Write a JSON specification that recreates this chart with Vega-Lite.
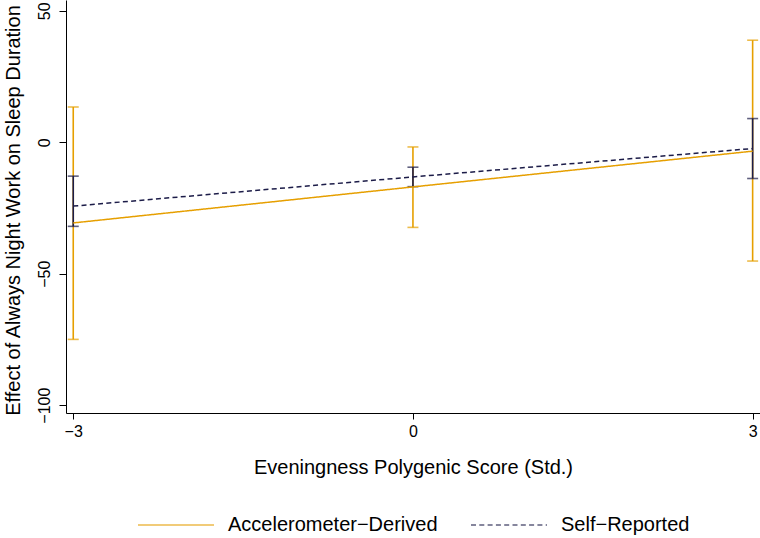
{
  "$schema": "https://vega.github.io/schema/vega-lite/v6.json",
  "autosize": "none",
  "width": 694,
  "height": 413,
  "padding": {"left": 66, "top": 0, "right": 0, "bottom": 125},
  "background": "white",
  "config": {
    "view": {"stroke": null},
    "font": "Liberation Sans",
    "axis": {"grid": false, "domainColor": "black", "tickColor": "black", "labelColor": "black", "titleColor": "black", "labelFont": "Liberation Sans", "titleFont": "Liberation Sans", "titleFontWeight": "normal", "domainWidth": 1, "tickWidth": 1, "labelFontSize": 16, "titleFontSize": 20}
  },
  "data": {
    "values": [
      {"series": "Accelerometer−Derived", "x": -3, "est": -30.7, "lo": -75.0, "hi": 13.4},
      {"series": "Accelerometer−Derived", "x": 0, "est": -17.0, "lo": -32.4, "hi": -1.8},
      {"series": "Accelerometer−Derived", "x": 3, "est": -3.4, "lo": -45.2, "hi": 38.8},
      {"series": "Self−Reported", "x": -3, "est": -24.3, "lo": -32.0, "hi": -12.9},
      {"series": "Self−Reported", "x": 0, "est": -13.2, "lo": -16.9, "hi": -9.5},
      {"series": "Self−Reported", "x": 3, "est": -2.4, "lo": -13.8, "hi": 9.0}
    ]
  },
  "encoding": {
    "x": {
      "field": "x", "type": "quantitative",
      "scale": {"domain": [-3.064, 3.065], "nice": false, "zero": false},
      "axis": {"values": [-3, 0, 3], "title": "Eveningness Polygenic Score (Std.)", "labelFontSize": 16, "titleFontSize": 20, "tickSize": 6, "labelPadding": 4, "labelBaseline": "top", "titleBaseline": "middle", "titleY": 54.5, "titleX": 347}
    },
    "color": {
      "field": "series", "type": "nominal",
      "scale": {"domain": ["Accelerometer−Derived", "Self−Reported"], "range": ["#E69F00", "#1C1C48"]},
      "legend": {"title": null, "orient": "none", "direction": "horizontal", "legendX": 71, "legendY": 486, "symbolType": "stroke", "symbolSize": 5776, "symbolStrokeWidth": 1.5, "labelFontSize": 20, "labelFont": "Liberation Sans", "labelColor": "black", "labelOffset": 13, "labelLimit": 400, "columnPadding": 30}
    }
  },
  "layer": [
    {
      "mark": {"type": "rule", "strokeWidth": 1.6},
      "encoding": {
        "y": {"field": "lo", "type": "quantitative", "scale": {"domain": [-103, 54.1], "nice": false, "zero": false},
          "axis": {"values": [-100, -50, 0, 50], "title": "Effect of Always Night Work on Sleep Duration", "labelFontSize": 16, "titleFontSize": 20, "labelAngle": -90, "labelAlign": "center", "labelBaseline": "bottom", "tickSize": 7, "labelPadding": 7, "titleAngle": -90, "titleAlign": "center", "titleBaseline": "bottom", "titleX": -43, "titleY": 210}},
        "y2": {"field": "hi"}
      }
    },
    {
      "mark": {"type": "tick", "orient": "horizontal", "size": 11, "thickness": 1.6},
      "encoding": {"y": {"field": "lo", "type": "quantitative"}}
    },
    {
      "mark": {"type": "tick", "orient": "horizontal", "size": 11, "thickness": 1.6},
      "encoding": {"y": {"field": "hi", "type": "quantitative"}}
    },
    {
      "mark": {"type": "line", "strokeWidth": 1.5},
      "encoding": {
        "y": {"field": "est", "type": "quantitative"},
        "strokeDash": {
          "field": "series", "type": "nominal",
          "scale": {"domain": ["Accelerometer−Derived", "Self−Reported"], "range": [[1, 0], [5, 3.3]]},
          "legend": {"title": null, "orient": "none", "direction": "horizontal", "legendX": 71, "legendY": 486, "symbolType": "stroke", "symbolSize": 5776, "symbolStrokeWidth": 1.5, "labelFontSize": 20, "labelFont": "Liberation Sans", "labelColor": "black", "labelOffset": 13, "labelLimit": 400, "columnPadding": 30}
        }
      }
    }
  ]
}
